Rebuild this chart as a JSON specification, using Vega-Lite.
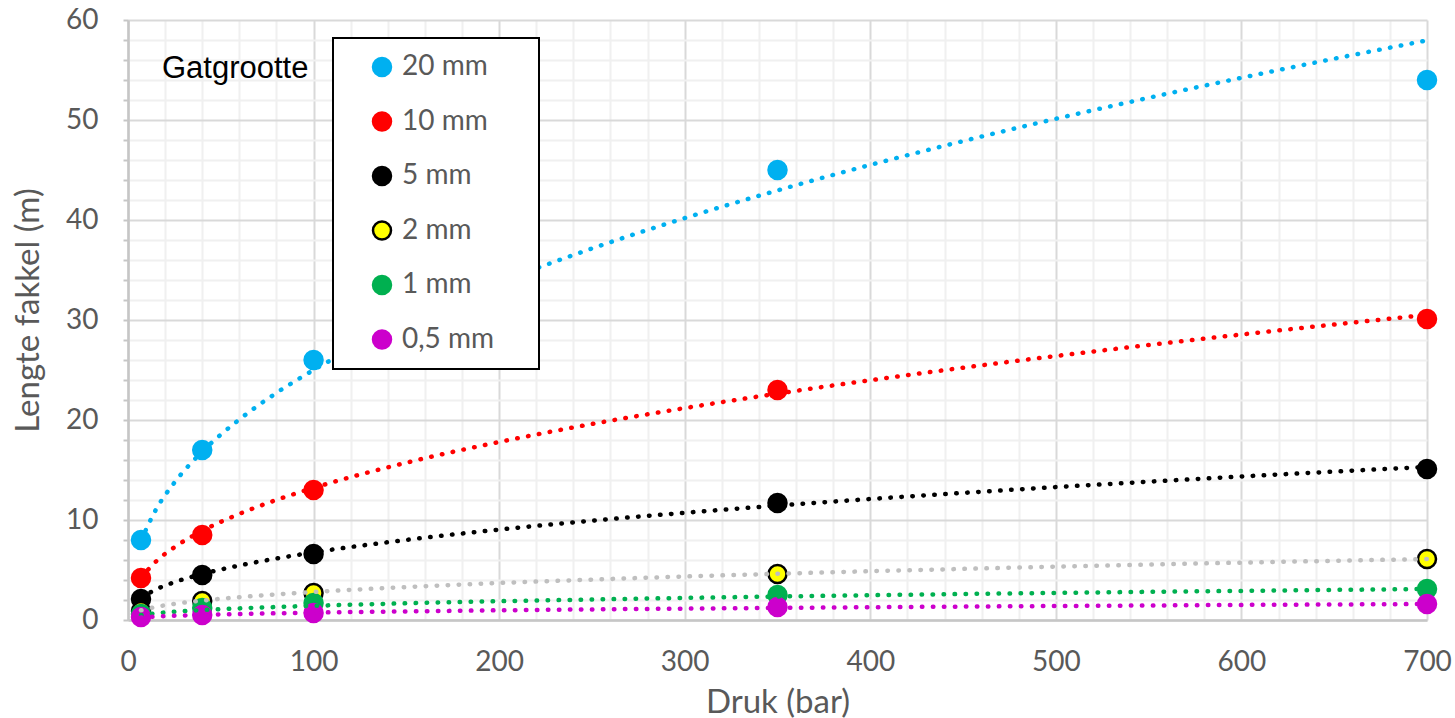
{
  "$schema": "https://vega.github.io/schema/vega-lite/v6.json",
  "autosize": {"type": "none"},
  "padding": {"left": 128, "top": 20, "right": 28, "bottom": 98},
  "width": 1299,
  "height": 600,
  "background": "white",
  "title": {
    "text": "Gatgrootte",
    "anchor": "start",
    "frame": "group",
    "orient": "top",
    "offset": 0,
    "dx": 34,
    "dy": 103,
    "baseline": "alphabetic",
    "font": "Liberation Sans",
    "fontSize": 31,
    "fontWeight": "normal",
    "color": "#000000"
  },
  "datasets": {
    "pts": [
      {"s": "20 mm", "x": 7, "y": 8}, {"s": "20 mm", "x": 40, "y": 17}, {"s": "20 mm", "x": 100, "y": 26}, {"s": "20 mm", "x": 350, "y": 45}, {"s": "20 mm", "x": 700, "y": 54},
      {"s": "10 mm", "x": 7, "y": 4.2}, {"s": "10 mm", "x": 40, "y": 8.5}, {"s": "10 mm", "x": 100, "y": 13}, {"s": "10 mm", "x": 350, "y": 23}, {"s": "10 mm", "x": 700, "y": 30.1},
      {"s": "5 mm", "x": 7, "y": 2.1}, {"s": "5 mm", "x": 40, "y": 4.5}, {"s": "5 mm", "x": 100, "y": 6.6}, {"s": "5 mm", "x": 350, "y": 11.7}, {"s": "5 mm", "x": 700, "y": 15.1},
      {"s": "2 mm", "x": 7, "y": 0.9}, {"s": "2 mm", "x": 40, "y": 1.9}, {"s": "2 mm", "x": 100, "y": 2.7}, {"s": "2 mm", "x": 350, "y": 4.6}, {"s": "2 mm", "x": 700, "y": 6.1},
      {"s": "1 mm", "x": 7, "y": 0.6}, {"s": "1 mm", "x": 40, "y": 1.2}, {"s": "1 mm", "x": 100, "y": 1.7}, {"s": "1 mm", "x": 350, "y": 2.5}, {"s": "1 mm", "x": 700, "y": 3.1},
      {"s": "0,5 mm", "x": 7, "y": 0.3}, {"s": "0,5 mm", "x": 40, "y": 0.5}, {"s": "0,5 mm", "x": 100, "y": 0.7}, {"s": "0,5 mm", "x": 350, "y": 1.3}, {"s": "0,5 mm", "x": 700, "y": 1.6}
    ],
    "trend": [
      {"s": "20 mm", "x": 7, "y": 7.93}, {"s": "20 mm", "x": 15, "y": 11.02}, {"s": "20 mm", "x": 25, "y": 13.74}, {"s": "20 mm", "x": 40, "y": 16.83}, {"s": "20 mm", "x": 60, "y": 20.05}, {"s": "20 mm", "x": 80, "y": 22.71}, {"s": "20 mm", "x": 100, "y": 25.0}, {"s": "20 mm", "x": 150, "y": 29.79}, {"s": "20 mm", "x": 200, "y": 33.73}, {"s": "20 mm", "x": 250, "y": 37.15}, {"s": "20 mm", "x": 300, "y": 40.19}, {"s": "20 mm", "x": 350, "y": 42.96}, {"s": "20 mm", "x": 400, "y": 45.51}, {"s": "20 mm", "x": 450, "y": 47.89}, {"s": "20 mm", "x": 500, "y": 50.12}, {"s": "20 mm", "x": 550, "y": 52.22}, {"s": "20 mm", "x": 600, "y": 54.22}, {"s": "20 mm", "x": 650, "y": 56.13}, {"s": "20 mm", "x": 700, "y": 57.96},
      {"s": "10 mm", "x": 7, "y": 4.21}, {"s": "10 mm", "x": 15, "y": 5.84}, {"s": "10 mm", "x": 25, "y": 7.28}, {"s": "10 mm", "x": 40, "y": 8.91}, {"s": "10 mm", "x": 60, "y": 10.61}, {"s": "10 mm", "x": 80, "y": 12.01}, {"s": "10 mm", "x": 100, "y": 13.21}, {"s": "10 mm", "x": 150, "y": 15.73}, {"s": "10 mm", "x": 200, "y": 17.8}, {"s": "10 mm", "x": 250, "y": 19.6}, {"s": "10 mm", "x": 300, "y": 21.19}, {"s": "10 mm", "x": 350, "y": 22.64}, {"s": "10 mm", "x": 400, "y": 23.98}, {"s": "10 mm", "x": 450, "y": 25.23}, {"s": "10 mm", "x": 500, "y": 26.4}, {"s": "10 mm", "x": 550, "y": 27.5}, {"s": "10 mm", "x": 600, "y": 28.55}, {"s": "10 mm", "x": 650, "y": 29.55}, {"s": "10 mm", "x": 700, "y": 30.51},
      {"s": "5 mm", "x": 7, "y": 2.21}, {"s": "5 mm", "x": 15, "y": 3.05}, {"s": "5 mm", "x": 25, "y": 3.78}, {"s": "5 mm", "x": 40, "y": 4.6}, {"s": "5 mm", "x": 60, "y": 5.45}, {"s": "5 mm", "x": 80, "y": 6.15}, {"s": "5 mm", "x": 100, "y": 6.76}, {"s": "5 mm", "x": 150, "y": 8.01}, {"s": "5 mm", "x": 200, "y": 9.04}, {"s": "5 mm", "x": 250, "y": 9.93}, {"s": "5 mm", "x": 300, "y": 10.72}, {"s": "5 mm", "x": 350, "y": 11.44}, {"s": "5 mm", "x": 400, "y": 12.1}, {"s": "5 mm", "x": 450, "y": 12.71}, {"s": "5 mm", "x": 500, "y": 13.29}, {"s": "5 mm", "x": 550, "y": 13.83}, {"s": "5 mm", "x": 600, "y": 14.35}, {"s": "5 mm", "x": 650, "y": 14.84}, {"s": "5 mm", "x": 700, "y": 15.31},
      {"s": "2 mm", "x": 7, "y": 0.97}, {"s": "2 mm", "x": 15, "y": 1.31}, {"s": "2 mm", "x": 25, "y": 1.61}, {"s": "2 mm", "x": 40, "y": 1.94}, {"s": "2 mm", "x": 60, "y": 2.28}, {"s": "2 mm", "x": 80, "y": 2.56}, {"s": "2 mm", "x": 100, "y": 2.8}, {"s": "2 mm", "x": 150, "y": 3.29}, {"s": "2 mm", "x": 200, "y": 3.7}, {"s": "2 mm", "x": 250, "y": 4.04}, {"s": "2 mm", "x": 300, "y": 4.35}, {"s": "2 mm", "x": 350, "y": 4.62}, {"s": "2 mm", "x": 400, "y": 4.88}, {"s": "2 mm", "x": 450, "y": 5.11}, {"s": "2 mm", "x": 500, "y": 5.33}, {"s": "2 mm", "x": 550, "y": 5.54}, {"s": "2 mm", "x": 600, "y": 5.74}, {"s": "2 mm", "x": 650, "y": 5.92}, {"s": "2 mm", "x": 700, "y": 6.1},
      {"s": "1 mm", "x": 7, "y": 0.49}, {"s": "1 mm", "x": 15, "y": 0.67}, {"s": "1 mm", "x": 25, "y": 0.82}, {"s": "1 mm", "x": 40, "y": 0.99}, {"s": "1 mm", "x": 60, "y": 1.16}, {"s": "1 mm", "x": 80, "y": 1.3}, {"s": "1 mm", "x": 100, "y": 1.42}, {"s": "1 mm", "x": 150, "y": 1.67}, {"s": "1 mm", "x": 200, "y": 1.88}, {"s": "1 mm", "x": 250, "y": 2.05}, {"s": "1 mm", "x": 300, "y": 2.21}, {"s": "1 mm", "x": 350, "y": 2.35}, {"s": "1 mm", "x": 400, "y": 2.48}, {"s": "1 mm", "x": 450, "y": 2.6}, {"s": "1 mm", "x": 500, "y": 2.71}, {"s": "1 mm", "x": 550, "y": 2.82}, {"s": "1 mm", "x": 600, "y": 2.91}, {"s": "1 mm", "x": 650, "y": 3.01}, {"s": "1 mm", "x": 700, "y": 3.1},
      {"s": "0,5 mm", "x": 7, "y": 0.25}, {"s": "0,5 mm", "x": 15, "y": 0.34}, {"s": "0,5 mm", "x": 25, "y": 0.42}, {"s": "0,5 mm", "x": 40, "y": 0.51}, {"s": "0,5 mm", "x": 60, "y": 0.6}, {"s": "0,5 mm", "x": 80, "y": 0.67}, {"s": "0,5 mm", "x": 100, "y": 0.74}, {"s": "0,5 mm", "x": 150, "y": 0.86}, {"s": "0,5 mm", "x": 200, "y": 0.97}, {"s": "0,5 mm", "x": 250, "y": 1.06}, {"s": "0,5 mm", "x": 300, "y": 1.14}, {"s": "0,5 mm", "x": 350, "y": 1.21}, {"s": "0,5 mm", "x": 400, "y": 1.28}, {"s": "0,5 mm", "x": 450, "y": 1.34}, {"s": "0,5 mm", "x": 500, "y": 1.4}, {"s": "0,5 mm", "x": 550, "y": 1.45}, {"s": "0,5 mm", "x": 600, "y": 1.51}, {"s": "0,5 mm", "x": 650, "y": 1.55}, {"s": "0,5 mm", "x": 700, "y": 1.6}
    ]
  },
  "encoding": {
    "x": {
      "field": "x", "type": "quantitative",
      "scale": {"domain": [0, 700], "nice": false, "zero": false},
      "axis": {
        "title": "Druk (bar)",
        "values": [0,20,40,60,80,100,120,140,160,180,200,220,240,260,280,300,320,340,360,380,400,420,440,460,480,500,520,540,560,580,600,620,640,660,680,700],
        "labelExpr": "datum.value % 100 === 0 ? datum.label : ''",
        "labelOverlap": false, "labelFlush": false, "labelBound": false,
        "ticks": false, "tickSize": 0, "labelPadding": 28,
        "grid": true,
        "gridColor": {"condition": {"test": "datum.value % 100 === 0", "value": "#d9d9d9"}, "value": "#f0f0f0"},
        "gridWidth": 2,
        "domainColor": "#c6c6c6", "domainWidth": 2.5,
        "labelFont": "Lato", "labelFontSize": 28, "labelColor": "#595959",
        "titleFont": "Lato", "titleFontSize": 33, "titleFontWeight": "normal", "titleColor": "#595959",
        "titleY": 92, "titleBaseline": "alphabetic"
      }
    },
    "y": {
      "field": "y", "type": "quantitative",
      "scale": {"domain": [0, 60], "nice": false, "zero": true},
      "axis": {
        "title": "Lengte fakkel (m)",
        "values": [0,2,4,6,8,10,12,14,16,18,20,22,24,26,28,30,32,34,36,38,40,42,44,46,48,50,52,54,56,58,60],
        "labelExpr": "datum.value % 10 === 0 ? datum.label : ''",
        "labelOverlap": false, "labelFlush": false, "labelBound": false,
        "ticks": true, "tickSize": 5, "tickWidth": 2, "tickColor": "#c6c6c6", "labelPadding": 25,
        "grid": true,
        "gridColor": {"condition": {"test": "datum.value % 10 === 0", "value": "#d9d9d9"}, "value": "#f0f0f0"},
        "gridWidth": 2,
        "domainColor": "#c6c6c6", "domainWidth": 2.5,
        "labelFont": "Lato", "labelFontSize": 28, "labelColor": "#595959", "labelBaseline": "middle",
        "titleFont": "Lato", "titleFontSize": 33, "titleFontWeight": "normal", "titleColor": "#595959",
        "titleX": -90, "titleY": 290, "titleBaseline": "alphabetic", "titleAngle": 270
      }
    }
  },
  "layer": [
    {
      "data": {"name": "pts"},
      "mark": {"type": "circle", "size": 324, "strokeWidth": 2.5, "opacity": 1},
      "encoding": {
        "fill": {
          "field": "s", "type": "nominal",
          "scale": {"domain": ["20 mm", "10 mm", "5 mm", "2 mm", "1 mm", "0,5 mm"], "range": ["#00b0f0", "#ff0000", "#000000", "#ffff00", "#00b050", "#cc00cc"]},
          "legend": {"title": "\u00a0", "titleOrient": "right", "titleFontSize": 28, "titlePadding": 30, "orient": "none", "legendX": 205, "legendY": 18}
        },
        "stroke": {
          "field": "s", "type": "nominal",
          "scale": {"domain": ["20 mm", "10 mm", "5 mm", "2 mm", "1 mm", "0,5 mm"], "range": ["#00b0f0", "#ff0000", "#000000", "#000000", "#00b050", "#cc00cc"]},
          "legend": {"title": "\u00a0", "titleOrient": "right", "titleFontSize": 28, "titlePadding": 30, "orient": "none", "legendX": 205, "legendY": 18}
        }
      }
    },
    {
      "data": {"name": "trend"},
      "mark": {"type": "line", "strokeWidth": 4.5, "strokeDash": [0.5, 10.5], "strokeCap": "round", "interpolate": "monotone"},
      "encoding": {
        "color": {
          "field": "s", "type": "nominal",
          "scale": {"domain": ["20 mm", "10 mm", "5 mm", "2 mm", "1 mm", "0,5 mm"], "range": ["#00b0f0", "#ff0000", "#000000", "#bfbfbf", "#00b050", "#cc00cc"]},
          "legend": null
        }
      }
    }
  ],
  "config": {
    "view": {"stroke": null},
    "legend": {
      "strokeColor": "#000000",
      "strokeWidth": 2,
      "fillColor": "#ffffff",
      "padding": 15,
      "symbolType": "circle",
      "symbolSize": 324,
      "symbolStrokeWidth": 2.5,
      "labelFont": "Lato",
      "labelFontSize": 28,
      "labelColor": "#595959",
      "labelOffset": 6,
      "rowPadding": 26.5,
      "symbolOffset": 20
    }
  }
}
